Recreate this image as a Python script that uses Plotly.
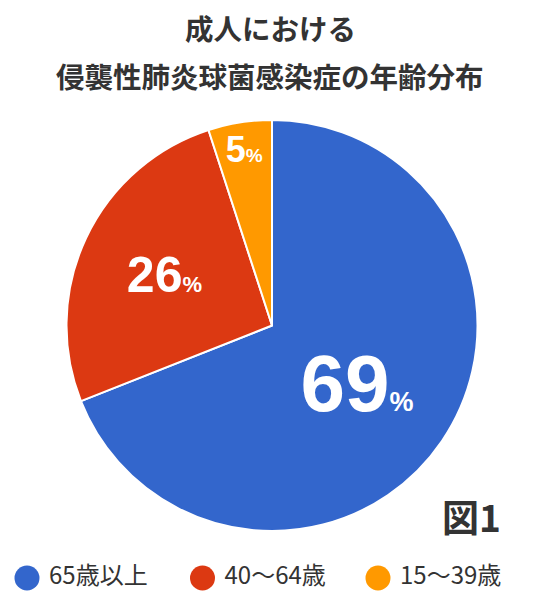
import plotly.graph_objects as go

# ---- data ----
categories = ["65歳以上", "40〜64歳", "15〜39歳"]
values = [69, 26, 5]
title_lines = ["成人における", "侵襲性肺炎球菌感染症の年齢分布"]
figure_label = "図1"

# ---- styles ----
colors = ["#3366CC", "#DC3912", "#FF9900"]
num_sizes = [80, 50, 36]
pct_sizes = [27, 22, 19]
W, H = 540, 601
OFF = 8  # page body margin offset

def px(x):
    return (x - OFF) / W

def py(y):
    return 1 - (y - OFF) / H

templates = [
    "%{value}<span style='font-size:" + str(p) + "px'>%</span>" for p in pct_sizes
]

fig = go.Figure()
fig.add_trace(go.Pie(
    labels=categories,
    values=values,
    sort=False,
    direction="clockwise",
    rotation=0,
    marker=dict(colors=colors, line=dict(color="white", width=2)),
    texttemplate=templates,
    textposition="inside",
    insidetextorientation="horizontal",
    textfont=dict(family="Liberation Sans, Arial, sans-serif", size=num_sizes,
                  color="white", weight="bold"),
    domain=dict(x=[px(66), px(478)], y=[py(531), py(120)]),
    showlegend=False,
    hoverinfo="skip",
))

# custom legend drawn as a scatter on a hidden axis
fig.add_trace(go.Scatter(
    x=list(range(len(categories))),
    y=[0] * len(categories),
    mode="markers+text",
    marker=dict(size=25, color=colors, symbol="circle"),
    text=["&nbsp;" + c for c in categories],
    textposition="middle right",
    textfont=dict(family="Noto Sans CJK JP, sans-serif", size=24, color="#333333"),
    showlegend=False,
    hoverinfo="skip",
    cliponaxis=False,
))

annotations = []
for t, yp in zip(title_lines, [28, 75]):
    annotations.append(dict(
        text=t, x=px(270), xref="paper", y=py(yp), yref="paper",
        xanchor="center", yanchor="middle", showarrow=False,
        font=dict(family="Noto Sans CJK JP, sans-serif", size=28.5,
                  color="#333333", weight="bold"),
    ))
annotations.append(dict(
    text=figure_label, x=px(471), xref="paper", y=py(516), yref="paper",
    xanchor="center", yanchor="middle", showarrow=False,
    font=dict(family="Noto Sans CJK JP, sans-serif", size=37,
              color="#333333", weight="bold"),
))

spacing = 175.5
x0 = 27 - OFF
fig.update_layout(
    width=W, height=H,
    margin=dict(l=0, r=0, t=0, b=0),
    paper_bgcolor="white", plot_bgcolor="white",
    xaxis=dict(visible=False, range=[-x0 / spacing, (W - x0) / spacing],
               domain=[0, 1], fixedrange=True),
    yaxis=dict(visible=False, range=[-1, 1],
               domain=[py(598), py(558)], fixedrange=True),
    annotations=annotations,
)

fig.write_html("out.html")
